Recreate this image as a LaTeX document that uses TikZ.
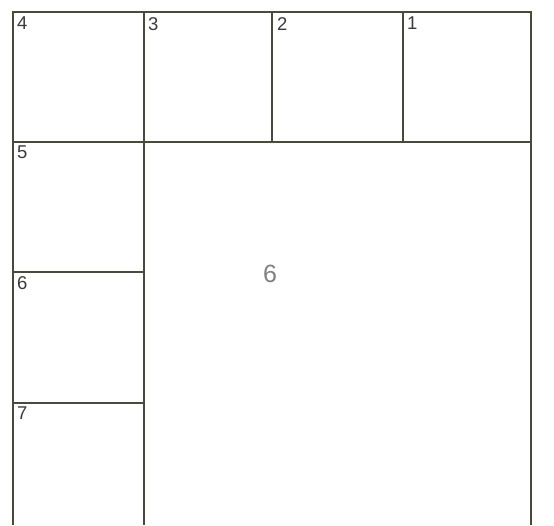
\documentclass[tikz,border=0pt]{standalone}
\usepackage{fontspec}
\setmainfont{Liberation Sans}
\definecolor{linec}{HTML}{4A4A3C}
\definecolor{textc}{HTML}{3A3A3A}
\begin{document}
\begin{tikzpicture}[x=1pt,y=-1pt,
  wall/.style={draw=linec,line width=1.8pt},
  inner/.style={draw=linec,line width=1.4pt},
  num/.style={anchor=north west,inner sep=0pt,text=textc,font=\fontsize{18.5}{18.5}\selectfont},
  big/.style={inner sep=0pt,text=gray,font=\fontsize{25}{25}\selectfont}]
\useasboundingbox (0,0) rectangle (554,525);
% outer frame (open at the bottom)
\draw[wall] (13,525) -- (13,12) -- (531,12) -- (531,525);
% top row boundary
\draw[inner] (13,142) -- (531,142);
% top row dividers
\draw[inner] (144,12) -- (144,525);
\draw[inner] (272,12) -- (272,142);
\draw[inner] (403,12) -- (403,142);
% left column dividers
\draw[inner] (13,272) -- (144,272);
\draw[inner] (13,403) -- (144,403);
% labels
\node[num] (n4) at (17,17) {4};
\node[num] (n3) at (148,17) {3};
\node[num] (n2) at (277,17) {2};
\node[num] (n1) at (407,17) {1};
\node[num] (n5) at (17,146) {5};
\node[num] (n6) at (17,276) {6};
\node[num] (n7) at (17,407) {7};
\node[big] (big6) at (270,274) {6};
\end{tikzpicture}
\end{document}
